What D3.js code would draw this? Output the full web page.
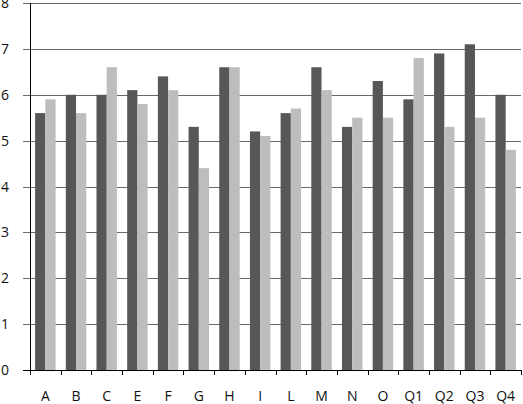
<!DOCTYPE html>
<html>
<head>
<meta charset="utf-8">
<script src="https://cdn.jsdelivr.net/npm/d3@7"></script>
<style>
  body { margin: 0; background: #fff; }
  svg text { font-family: "Open Sans", "Liberation Sans", sans-serif; font-size: 14px; fill: #111; }
</style>
</head>
<body>
<div class="chart"></div>
<script>
// data
var categories = ["A", "B", "C", "E", "F", "G", "H", "I", "L", "M", "N", "O", "Q1", "Q2", "Q3", "Q4"];
var series1 = [5.6, 6.0, 6.0, 6.1, 6.4, 5.3, 6.6, 5.2, 5.6, 6.6, 5.3, 6.3, 5.9, 6.9, 7.1, 6.0];
var series2 = [5.9, 5.6, 6.6, 5.8, 6.1, 4.4, 6.6, 5.1, 5.7, 6.1, 5.5, 5.5, 6.8, 5.3, 5.5, 4.8];
var yTicks = [0, 1, 2, 3, 4, 5, 6, 7, 8];

var margin = {top: 3, right: 2, bottom: 34, left: 30},
    width = 523 - margin.left - margin.right,
    height = 404 - margin.top - margin.bottom;

var svg = d3.select(".chart").append("svg")
    .attr("width", 523)
    .attr("height", 404)
  .append("g")
    .attr("transform", "translate(" + margin.left + "," + margin.top + ")");

var x = d3.scaleBand().domain(categories).range([0, width]).paddingInner(0).paddingOuter(0);
var inner = d3.scaleBand().domain([0, 1]).range([0, x.bandwidth()]).paddingInner(0).paddingOuter(0.5);
var y = d3.scaleLinear().domain([0, 8]).range([height, 0]);

// gridlines
svg.selectAll(".grid")
    .data(yTicks)
  .enter().append("line")
    .attr("x1", -7)
    .attr("x2", width)
    .attr("y1", function(d) { return Math.round(y(d)) + 0.5; })
    .attr("y2", function(d) { return Math.round(y(d)) + 0.5; })
    .attr("stroke", function(d) { return d === 0 ? "#000" : "#6a6a6a"; })
    .attr("stroke-width", 1);

// bars
var groups = svg.selectAll(".cat")
    .data(categories)
  .enter().append("g")
    .attr("transform", function(d) { return "translate(" + x(d) + ",0)"; });

groups.append("rect")
    .attr("x", inner(0))
    .attr("width", inner.bandwidth())
    .attr("y", function(d, i) { return y(series1[i]); })
    .attr("height", function(d, i) { return y(0) - y(series1[i]); })
    .attr("fill", "#575757");

groups.append("rect")
    .attr("x", inner(1))
    .attr("width", inner.bandwidth())
    .attr("y", function(d, i) { return y(series2[i]); })
    .attr("height", function(d, i) { return y(0) - y(series2[i]); })
    .attr("fill", "#bdbdbd");

// y axis labels
svg.selectAll(".ylab")
    .data(yTicks)
  .enter().append("text")
    .attr("x", -21)
    .attr("y", function(d) { return y(d) + 5; })
    .attr("text-anchor", "end")
    .text(function(d) { return d; });

// y axis line
svg.append("line")
    .attr("x1", 0.5).attr("x2", 0.5)
    .attr("y1", 0).attr("y2", height)
    .attr("stroke", "#000");

// x ticks between categories
var edges = categories.map(function(c) { return x(c); }).concat([width]);
svg.selectAll(".xtick")
    .data(edges)
  .enter().append("line")
    .attr("x1", function(d) { return Math.round(d) + 0.5; })
    .attr("x2", function(d) { return Math.round(d) + 0.5; })
    .attr("y1", height)
    .attr("y2", height + 5)
    .attr("stroke", "#000");

// x labels
svg.selectAll(".xlab")
    .data(categories)
  .enter().append("text")
    .attr("x", function(d) { return x(d) + x.bandwidth() / 2; })
    .attr("y", height + 31)
    .attr("text-anchor", "middle")
    .text(function(d) { return d; });
</script>
</body>
</html>
